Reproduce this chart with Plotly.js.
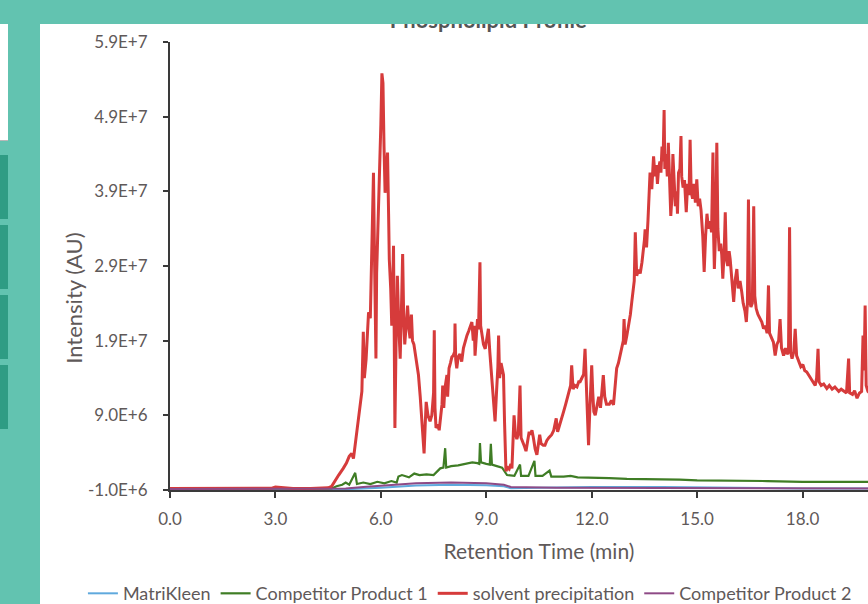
<!DOCTYPE html>
<html><head><meta charset="utf-8">
<script src="https://cdn.plot.ly/plotly-3.0.1.min.js"></script>
<style>
html,body{margin:0;padding:0;width:868px;height:604px;overflow:hidden;background:#62c3b0;font-family:Lato,sans-serif}
#band{position:absolute;left:0;top:0;width:868px;height:24px;background:#62c3b0;z-index:5}
#wbox{position:absolute;left:0;top:24px;width:8px;height:116px;background:#fff;border-bottom:1px solid #b8b8b8}
.tab{position:absolute;left:0;width:8px;height:64px;background:#2f9c84}
#chart{position:absolute;left:40px;top:0px;width:900px;height:624px;background:#fff}
</style></head>
<body>
<div id="wbox"></div>
<div class="tab" style="top:155px"></div>
<div class="tab" style="top:225px"></div>
<div class="tab" style="top:295px"></div>
<div class="tab" style="top:365px"></div>
<div id="chart"></div>
<div id="band"></div>
<script>
// Intensity values are in units of 1E+6 AU
const seriesNames = ["MatriKleen", "Competitor Product 1", "solvent precipitation", "Competitor Product 2"];
const seriesColors = ["#5fa9dd", "#3f7d25", "#d63b3b", "#8e4a86"];

const matriTime = [0, 5.0, 6.0, 6.5, 7.0, 8.0, 9.0, 9.5, 9.7, 10.5, 12.0, 14.0, 16.0, 18.0, 20.3];
const matriIntensity = [-0.9, -0.9, -0.7, -0.5, -0.4, -0.3, -0.35, -0.5, -0.75, -0.7, -0.6, -0.6, -0.75, -0.8, -0.8];

const comp1Time = [0, 4.6, 4.74, 4.9, 5.0, 5.1, 5.27, 5.32, 5.5, 5.7, 5.9, 6.1, 6.3, 6.45, 6.5, 6.6, 6.8, 6.95, 7.1, 7.3, 7.5, 7.69, 7.78, 7.83, 7.86, 8.0, 8.2, 8.4, 8.6, 8.75, 8.8, 8.82, 8.85, 9.0, 9.1, 9.13, 9.16, 9.3, 9.45, 9.59, 9.8, 9.96, 9.99, 10.2, 10.37, 10.4, 10.6, 10.8, 10.85, 11.2, 11.4, 11.6, 12.0, 12.5, 13.0, 13.5, 14.0, 14.5, 15.0, 15.5, 16.0, 17.0, 18.0, 19.0, 20.3];
const comp1Intensity = [-0.8, -0.8, -0.5, -0.3, 0.0, -0.3, 1.3, -0.2, 0.0, -0.2, 0.1, -0.1, 0.2, 0.0, 0.8, 1.0, 0.7, 1.2, 1.0, 1.1, 1.0, 1.9, 2.0, 4.6, 2.0, 2.2, 2.3, 2.5, 2.7, 2.6, 2.5, 5.3, 2.7, 2.5, 2.4, 5.2, 2.4, 2.2, 2.0, 1.0, 0.9, 2.4, 0.9, 0.9, 2.9, 0.9, 0.9, 1.6, 0.8, 0.8, 0.9, 0.7, 0.7, 0.6, 0.5, 0.5, 0.4, 0.4, 0.3, 0.3, 0.2, 0.2, 0.1, 0.1, 0.1];

const solventTime = [0.0, 1.0, 2.0, 2.9, 3.0, 3.5, 4.0, 4.5, 4.6, 4.7, 4.8, 4.93, 5.02, 5.10, 5.17, 5.22, 5.28, 5.36, 5.42, 5.46, 5.50, 5.53, 5.58, 5.62, 5.65, 5.70, 5.74, 5.79, 5.82, 5.86, 5.88, 5.92, 5.96, 6.00, 6.03, 6.06, 6.09, 6.12, 6.16, 6.19, 6.22, 6.24, 6.28, 6.31, 6.34, 6.36, 6.38, 6.40, 6.43, 6.47, 6.51, 6.55, 6.58, 6.62, 6.65, 6.68, 6.72, 6.76, 6.80, 6.83, 6.87, 6.90, 6.94, 6.97, 7.02, 7.07, 7.12, 7.16, 7.20, 7.23, 7.26, 7.29, 7.34, 7.40, 7.45, 7.50, 7.52, 7.54, 7.57, 7.62, 7.66, 7.70, 7.74, 7.76, 7.79, 7.82, 7.86, 7.88, 7.90, 7.94, 7.98, 8.02, 8.06, 8.10, 8.11, 8.13, 8.16, 8.20, 8.25, 8.30, 8.35, 8.40, 8.45, 8.50, 8.55, 8.59, 8.63, 8.66, 8.68, 8.72, 8.75, 8.78, 8.82, 8.84, 8.88, 8.92, 8.97, 9.02, 9.06, 9.10, 9.13, 9.16, 9.20, 9.25, 9.29, 9.33, 9.35, 9.38, 9.42, 9.46, 9.49, 9.52, 9.56, 9.60, 9.65, 9.70, 9.73, 9.76, 9.79, 9.83, 9.87, 9.91, 9.96, 9.99, 10.04, 10.09, 10.13, 10.18, 10.22, 10.25, 10.30, 10.34, 10.39, 10.44, 10.48, 10.52, 10.56, 10.62, 10.67, 10.72, 10.78, 10.86, 10.92, 10.99, 11.03, 11.08, 11.14, 11.20, 11.26, 11.30, 11.34, 11.40, 11.43, 11.47, 11.52, 11.58, 11.63, 11.67, 11.72, 11.77, 11.81, 11.85, 11.88, 11.91, 11.94, 11.97, 12.00, 12.03, 12.06, 12.10, 12.15, 12.20, 12.25, 12.30, 12.33, 12.37, 12.42, 12.50, 12.56, 12.62, 12.66, 12.71, 12.76, 12.81, 12.86, 12.90, 12.92, 12.95, 13.00, 13.05, 13.10, 13.14, 13.18, 13.21, 13.24, 13.26, 13.28, 13.33, 13.38, 13.43, 13.47, 13.50, 13.52, 13.56, 13.60, 13.63, 13.66, 13.69, 13.71, 13.74, 13.76, 13.80, 13.84, 13.87, 13.90, 13.94, 13.97, 14.00, 14.03, 14.06, 14.08, 14.12, 14.15, 14.18, 14.21, 14.25, 14.28, 14.31, 14.35, 14.38, 14.42, 14.44, 14.47, 14.51, 14.54, 14.56, 14.60, 14.64, 14.69, 14.73, 14.77, 14.80, 14.83, 14.87, 14.91, 14.95, 14.99, 15.03, 15.07, 15.11, 15.16, 15.20, 15.24, 15.28, 15.32, 15.37, 15.41, 15.45, 15.47, 15.49, 15.52, 15.56, 15.59, 15.63, 15.67, 15.70, 15.73, 15.77, 15.80, 15.83, 15.87, 15.91, 15.94, 15.99, 16.04, 16.08, 16.13, 16.17, 16.22, 16.27, 16.31, 16.36, 16.40, 16.43, 16.46, 16.49, 16.53, 16.57, 16.61, 16.64, 16.68, 16.73, 16.78, 16.84, 16.89, 16.94, 16.99, 17.03, 17.06, 17.10, 17.17, 17.22, 17.27, 17.32, 17.36, 17.40, 17.46, 17.51, 17.56, 17.60, 17.63, 17.66, 17.70, 17.75, 17.79, 17.83, 17.89, 17.95, 18.01, 18.06, 18.12, 18.17, 18.23, 18.30, 18.36, 18.40, 18.44, 18.47, 18.53, 18.60, 18.69, 18.76, 18.84, 18.92, 19.03, 19.10, 19.18, 19.25, 19.31, 19.34, 19.42, 19.48, 19.55, 19.62, 19.68, 19.72, 19.75, 19.78, 19.81, 19.86, 19.95, 20.10, 20.30];
const solventIntensity = [-0.8, -0.8, -0.8, -0.75, -0.6, -0.8, -0.8, -0.7, -0.5, 0.3, 1.0, 1.9, 2.6, 3.5, 3.9, 3.2, 5.5, 8.6, 10.5, 12.2, 20.2, 14.0, 16.5, 20.0, 22.8, 22.0, 29.9, 41.5, 30.0, 16.6, 28.0, 34.4, 40.0, 48.0, 54.8, 53.5, 45.0, 38.8, 42.0, 44.2, 36.0, 29.9, 26.0, 21.0, 27.0, 31.7, 20.0, 7.3, 18.0, 27.7, 21.0, 16.6, 22.0, 30.6, 22.0, 18.5, 21.0, 23.7, 20.5, 19.3, 22.5, 19.0, 18.5, 17.5, 16.0, 14.4, 11.5, 8.6, 6.0, 3.9, 7.5, 10.8, 9.0, 8.2, 9.0, 12.0, 20.4, 10.0, 7.3, 7.8, 7.0, 8.5, 10.5, 13.0, 10.0, 12.5, 14.0, 14.4, 11.5, 15.3, 16.0, 16.8, 17.0, 17.5, 21.3, 16.5, 15.3, 16.8, 17.2, 16.2, 18.0, 19.0, 19.7, 20.3, 21.0, 21.5, 19.0, 21.0, 17.0, 19.5, 21.9, 20.5, 29.5, 21.0, 20.0, 18.5, 17.9, 19.5, 20.6, 17.5, 15.5, 13.9, 11.0, 8.2, 12.0, 15.5, 19.7, 14.0, 16.0, 15.0, 14.4, 8.0, 1.5, 2.0, 1.8, 2.5, 1.9, 5.5, 9.0, 6.5, 5.8, 6.5, 13.0, 6.0, 5.5, 4.8, 4.2, 5.5, 6.8, 6.4, 7.0, 6.0, 4.5, 3.7, 5.0, 6.4, 5.2, 5.0, 5.0, 5.6, 6.0, 6.4, 7.0, 8.6, 6.8, 7.5, 8.5, 9.5, 10.5, 11.2, 12.2, 13.0, 15.7, 12.5, 13.0, 12.8, 13.5, 13.5, 14.0, 14.5, 17.9, 13.0, 8.0, 5.0, 9.0, 13.5, 15.7, 12.0, 9.5, 9.0, 10.5, 11.5, 10.0, 13.0, 14.4, 11.5, 10.5, 10.5, 11.0, 10.4, 13.0, 15.3, 16.0, 17.0, 17.9, 19.0, 21.9, 18.5, 19.7, 21.0, 22.5, 24.2, 25.5, 27.0, 33.5, 28.0, 27.7, 28.5, 28.0, 29.5, 31.0, 32.5, 33.9, 31.5, 35.0, 37.5, 41.5, 40.0, 39.3, 42.0, 43.7, 41.0, 42.5, 40.0, 41.9, 43.0, 41.5, 45.0, 43.0, 49.9, 42.0, 44.0, 41.0, 45.5, 40.0, 35.7, 38.0, 44.0, 40.0, 37.0, 39.0, 36.0, 41.5, 42.0, 46.4, 41.0, 39.5, 40.5, 36.2, 40.0, 38.5, 45.9, 39.0, 38.0, 40.0, 37.5, 40.6, 37.0, 38.0, 36.5, 33.0, 28.2, 33.0, 36.0, 34.0, 35.0, 33.5, 44.2, 33.0, 28.6, 33.0, 45.5, 34.0, 31.0, 32.0, 30.5, 27.3, 31.0, 36.2, 30.0, 29.0, 31.0, 29.9, 27.0, 24.2, 27.0, 28.6, 26.0, 27.0, 25.5, 24.0, 23.0, 21.5, 24.0, 37.9, 24.5, 23.5, 24.0, 37.0, 25.0, 23.3, 22.5, 22.0, 21.5, 20.6, 21.0, 20.0, 26.4, 20.0, 19.5, 18.8, 17.0, 18.5, 19.0, 21.9, 18.0, 17.0, 18.0, 17.2, 17.5, 34.2, 17.5, 16.6, 17.5, 20.6, 17.0, 16.2, 15.5, 15.8, 15.0, 14.8, 14.4, 14.0, 13.5, 13.0, 14.0, 17.9, 13.5, 13.0, 13.2, 12.6, 13.0, 12.5, 12.8, 12.2, 12.5, 12.2, 12.0, 16.6, 12.0, 11.8, 12.3, 11.3, 12.0, 12.2, 19.7, 15.0, 23.7, 13.0, 12.2, 11.8, 12.0, 11.5];

const comp2Time = [0, 5.0, 5.5, 6.5, 7.0, 8.0, 9.0, 9.5, 9.7, 11.0, 14.0, 20.3];
const comp2Intensity = [-0.85, -0.8, -0.6, -0.3, -0.1, 0.0, -0.1, -0.3, -0.6, -0.7, -0.75, -0.8];

const xTickVals = [0, 3, 6, 9, 12, 15, 18];
const xTickText = ["0.0", "3.0", "6.0", "9.0", "12.0", "15.0", "18.0"];
const yTickVals = [-1, 9, 19, 29, 39, 49, 59];
const yTickText = ["-1.0E+6", "9.0E+6", "1.9E+7", "2.9E+7", "3.9E+7", "4.9E+7", "5.9E+7"];

const xs = [matriTime, comp1Time, solventTime, comp2Time];
const ys = [matriIntensity, comp1Intensity, solventIntensity, comp2Intensity];
const widths = [2, 2.2, 3, 2];

const traces = seriesNames.map((n, i) => ({
  x: xs[i], y: ys[i], name: n, type: 'scatter', mode: 'lines',
  line: {color: seriesColors[i], width: widths[i]}
}));

const txt = '#5f5959';
const layout = {
  width: 900, height: 624,
  margin: {l: 130, r: 32, t: 42, b: 132},
  paper_bgcolor: '#ffffff', plot_bgcolor: '#ffffff',
  font: {family: 'Lato, sans-serif', color: txt, size: 16},
  title: {text: 'Phospholipid Profile', font: {size: 22, color: '#555', family: 'Lato, sans-serif', weight: 'bold'},
          xref: 'container', x: 0.498, xanchor: 'center', yref: 'container', y: 0.968, yanchor: 'middle'},
  showlegend: true,
  legend: {orientation: 'h', x: -0.118, xanchor: 'left', y: -0.19, yanchor: 'top',
           font: {size: 18, color: txt}, bgcolor: 'rgba(0,0,0,0)'},
  xaxis: {range: [0, 21], tickvals: xTickVals, ticktext: xTickText, showgrid: false, zeroline: false,
          showline: true, linecolor: '#3a3a3a', linewidth: 2, ticks: 'outside', ticklen: 6, tickwidth: 2, tickcolor: '#3a3a3a',
          ticklabelstandoff: 7, tickfont: {size: 17, color: txt},
          title: {text: 'Retention Time (min)', font: {size: 21, color: txt}, standoff: 16}, automargin: false},
  yaxis: {range: [-1, 59], tickvals: yTickVals, ticktext: yTickText, showgrid: false, zeroline: false,
          showline: true, linecolor: '#3a3a3a', linewidth: 2, ticks: 'outside', ticklen: 5, tickwidth: 2, tickcolor: '#3a3a3a',
          ticklabelstandoff: 12, tickfont: {size: 17, color: txt}, automargin: false},
  annotations: [{text: 'Intensity (AU)', textangle: -90, xref: 'paper', yref: 'paper', x: -0.130, y: 0.427,
                 xanchor: 'center', yanchor: 'middle', showarrow: false, font: {size: 22, color: txt}}]
};
Plotly.newPlot('chart', traces, layout, {displayModeBar: false, staticPlot: true});
</script>
</body></html>
